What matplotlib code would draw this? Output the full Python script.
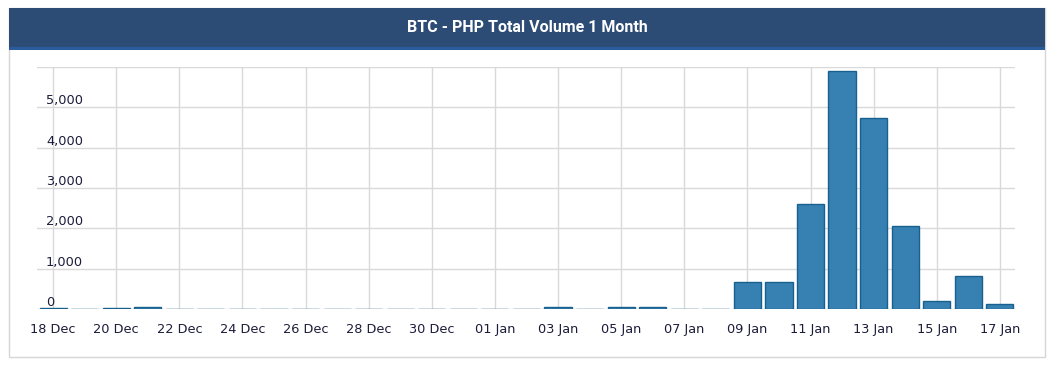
import matplotlib.pyplot as plt
from matplotlib.patches import Rectangle
import numpy as np

plt.rcParams['font.family'] = ['DejaVu Sans']

days = ['18 Dec', '19 Dec', '20 Dec', '21 Dec', '22 Dec', '23 Dec', '24 Dec', '25 Dec',
        '26 Dec', '27 Dec', '28 Dec', '29 Dec', '30 Dec', '31 Dec', '01 Jan', '02 Jan',
        '03 Jan', '04 Jan', '05 Jan', '06 Jan', '07 Jan', '08 Jan', '09 Jan', '10 Jan',
        '11 Jan', '12 Jan', '13 Jan', '14 Jan', '15 Jan', '16 Jan', '17 Jan']
volume = [14, 12, 14, 60, 12, 12, 12, 12,
          12, 12, 12, 12, 12, 12, 12, 12,
          45, 12, 45, 45, 12, 12, 672, 672,
          2600, 5890, 4745, 2056, 207, 820, 115]
yticks = [0, 1000, 2000, 3000, 4000, 5000, 6000]

W, H = 1054, 369
fig = plt.figure(figsize=(W / 100, H / 100), dpi=100)

# panel frame and header
fig.patches.append(Rectangle((9 / W, 1 - 357 / H), 1036 / W, 349 / H, transform=fig.transFigure,
                             facecolor='none', edgecolor='#d6d6d6', lw=1, zorder=-1))
fig.patches.append(Rectangle((9 / W, 1 - 47 / H), 1036 / W, 39 / H, transform=fig.transFigure,
                             facecolor='#2d4c75', edgecolor='none', zorder=1))
fig.patches.append(Rectangle((9 / W, 1 - 50 / H), 1036 / W, 3 / H, transform=fig.transFigure,
                             facecolor='#2a5b9c', edgecolor='none', zorder=1))
fig.text(527 / W, 1 - 28 / H, 'BTC - PHP Total Volume 1 Month', color='white',
         fontsize=11.5, fontweight='bold', ha='center', va='center',
         family=['Liberation Sans Narrow', 'Roboto', 'DejaVu Sans'])

ax = fig.add_axes([37 / W, 1 - 309 / H, 978 / W, 242 / H])
ax.set_facecolor('none')
x = np.arange(len(days))
ax.bar(x, volume, width=0.86, color='#2f7db0', edgecolor='#155d8c', linewidth=1,
       alpha=0.97, zorder=3)

ax.set_xlim(-0.51, 30.48)
ax.set_ylim(0, 6000)
ax.set_xticks(x[::2])
ax.set_xticklabels(days[::2])
ax.set_yticks(yticks)
ax.set_yticklabels(['0', '1,000', '2,000', '3,000', '4,000', '5,000', ''])
for s in ax.spines.values():
    s.set_visible(False)
ax.set_axisbelow(True)
ax.grid(True, color='#d9d9d9', lw=1)
ax.tick_params(axis='x', length=0, pad=10, labelsize=9.3, labelcolor='#1c1c3a')
ax.tick_params(axis='y', length=0, pad=-6.5, labelsize=9.3, labelcolor='#1c1c3a')
for lab in ax.get_yticklabels():
    lab.set_ha('left')
    lab.set_va('bottom')

fig.savefig('out.png', dpi=100)
